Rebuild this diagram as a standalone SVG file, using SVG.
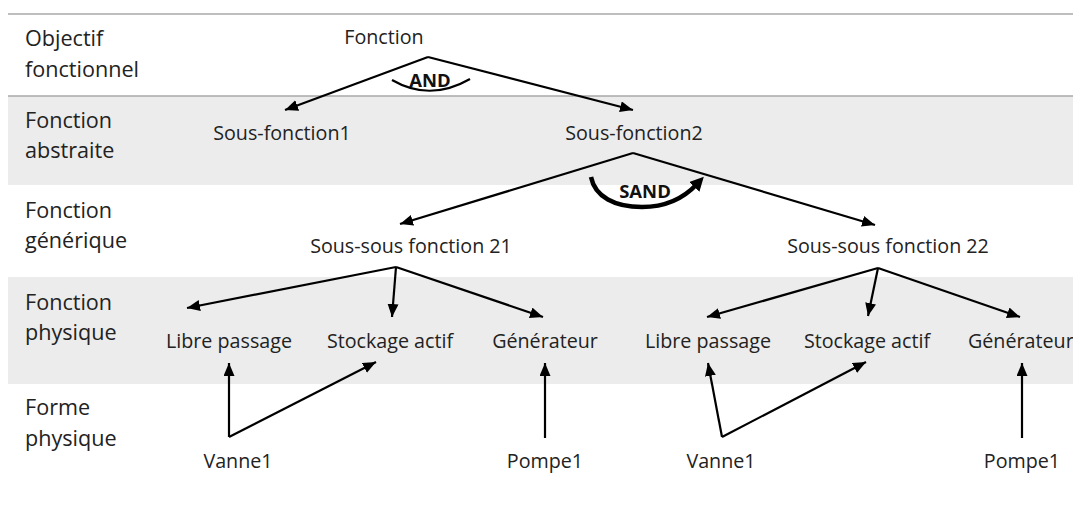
<svg xmlns="http://www.w3.org/2000/svg" width="1073" height="516" viewBox="0 0 1073 516">
  <defs>
    <style>
      .band { fill: #ececec; }
      .rule { stroke: #a8a8a8; stroke-width: 1.5; }
      .lbl { font-family: "Open Sans", "Noto Sans", sans-serif; font-size: 21.6px; fill: #222; }
      .node { font-family: "Open Sans", "Noto Sans", sans-serif; font-size: 19.7px; fill: #222; text-anchor: middle; }
      .op { font-family: "Open Sans", "Noto Sans", sans-serif; font-size: 18.5px; font-weight: bold; fill: #111; text-anchor: middle; }
      .edge { stroke: #000; stroke-width: 2.2; fill: none; marker-end: url(#arr); }
      .arc { stroke: #000; stroke-width: 2.2; fill: none; }
      .sand { stroke: #000; stroke-width: 4.5; fill: none; marker-end: url(#arrBig); }
    </style>
    <marker id="arr" markerUnits="userSpaceOnUse" markerWidth="14" markerHeight="12" refX="13" refY="5.5" orient="auto">
      <path d="M0,0 L13,5.5 L0,11 z" fill="#000"/>
    </marker>
    <marker id="arrBig" markerUnits="userSpaceOnUse" markerWidth="16" markerHeight="14" refX="4" refY="7" orient="auto">
      <path d="M0,0 L14,7 L0,14 z" fill="#000"/>
    </marker>
  </defs>

  <rect width="1073" height="516" fill="#fff"/>

  <g id="bands">
    <rect class="band" x="8" y="96" width="1065" height="89"/>
    <rect class="band" x="8" y="277" width="1065" height="107"/>
    <line class="rule" x1="8" y1="14" x2="1073" y2="14"/>
    <line class="rule" x1="8" y1="96" x2="1073" y2="96"/>
  </g>

  <g id="level-labels">
    <text class="lbl" x="25" y="46">Objectif</text>
    <text class="lbl" x="25" y="77">fonctionnel</text>
    <text class="lbl" x="25" y="128">Fonction</text>
    <text class="lbl" x="25" y="158">abstraite</text>
    <text class="lbl" x="25" y="218">Fonction</text>
    <text class="lbl" x="25" y="248">générique</text>
    <text class="lbl" x="25" y="310">Fonction</text>
    <text class="lbl" x="25" y="340">physique</text>
    <text class="lbl" x="25" y="415">Forme</text>
    <text class="lbl" x="25" y="446">physique</text>
  </g>

  <g id="connectors">
    <line class="edge" x1="428" y1="57" x2="285" y2="110"/>
    <line class="edge" x1="428" y1="57" x2="633" y2="110"/>
    <path class="arc" d="M392,80 Q430,102 470,79"/>
    <line class="edge" x1="633" y1="153" x2="400" y2="224"/>
    <line class="edge" x1="633" y1="153" x2="875" y2="225"/>
    <path class="sand" d="M591,177 C595,197 615,207 642,207 C665,207 684,198 697,184"/>
    <line class="edge" x1="396" y1="267" x2="187" y2="308"/>
    <line class="edge" x1="396" y1="267" x2="392" y2="317"/>
    <line class="edge" x1="396" y1="267" x2="543" y2="317"/>
    <line class="edge" x1="878" y1="268" x2="707" y2="317"/>
    <line class="edge" x1="878" y1="268" x2="868" y2="316"/>
    <line class="edge" x1="878" y1="268" x2="1020" y2="317"/>
    <line class="edge" x1="229" y1="437" x2="229" y2="363"/>
    <line class="edge" x1="229" y1="437" x2="376" y2="362"/>
    <line class="edge" x1="545" y1="438" x2="545" y2="363"/>
    <line class="edge" x1="722" y1="437" x2="708" y2="363"/>
    <line class="edge" x1="722" y1="437" x2="866" y2="362"/>
    <line class="edge" x1="1022" y1="438" x2="1022" y2="363"/>
  </g>

  <g id="op-and"><text class="op" x="430" y="87">AND</text></g>
  <g id="op-sand"><text class="op" x="645" y="198">SAND</text></g>

  <g id="n-fonction"><text class="node" x="384" y="44">Fonction</text></g>
  <g id="n-sf1"><text class="node" x="282" y="140">Sous-fonction1</text></g>
  <g id="n-sf2"><text class="node" x="634" y="140">Sous-fonction2</text></g>
  <g id="n-ssf21"><text class="node" x="411" y="253">Sous-sous fonction 21</text></g>
  <g id="n-ssf22"><text class="node" x="888" y="253">Sous-sous fonction 22</text></g>
  <g id="n-libre1"><text class="node" x="229" y="348">Libre passage</text></g>
  <g id="n-stock1"><text class="node" x="390" y="348">Stockage actif</text></g>
  <g id="n-gen1"><text class="node" x="545" y="348">Générateur</text></g>
  <g id="n-libre2"><text class="node" x="708" y="348">Libre passage</text></g>
  <g id="n-stock2"><text class="node" x="867" y="348">Stockage actif</text></g>
  <g id="n-gen2"><text class="node" x="968" y="348" style="text-anchor:start">Générateur</text></g>
  <g id="n-vanne1"><text class="node" x="238" y="468">Vanne1</text></g>
  <g id="n-pompe1"><text class="node" x="545" y="468">Pompe1</text></g>
  <g id="n-vanne2"><text class="node" x="721" y="468">Vanne1</text></g>
  <g id="n-pompe2"><text class="node" x="1022" y="468">Pompe1</text></g>
</svg>
